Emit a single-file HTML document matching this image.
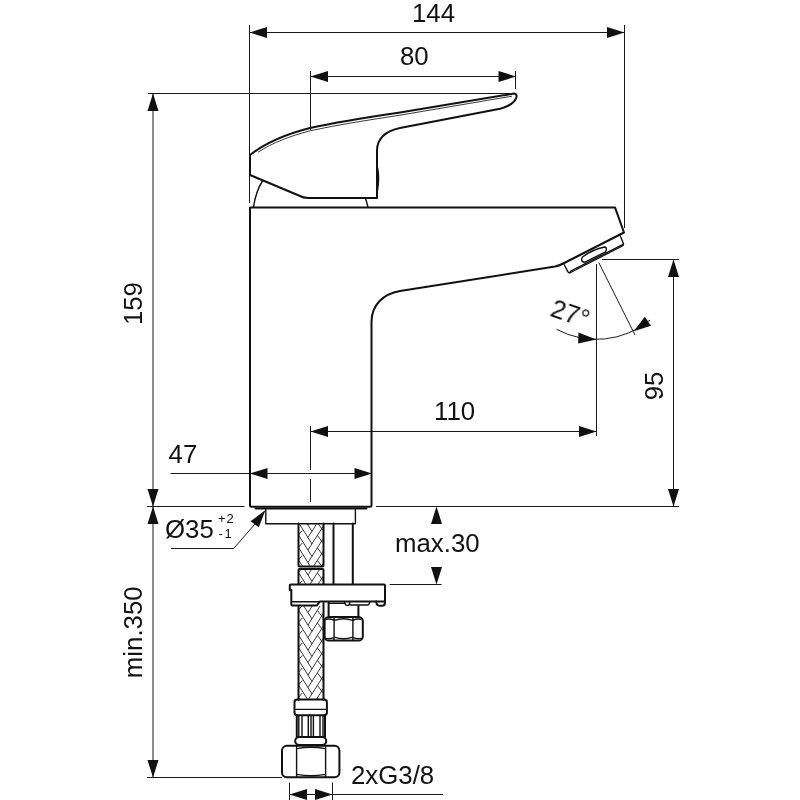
<!DOCTYPE html>
<html><head><meta charset="utf-8"><title>Drawing</title>
<style>
html,body{margin:0;padding:0;background:#fff;}
svg{display:block;}
text{font-family:"Liberation Sans",sans-serif;fill:#111;}
.t{stroke:#1a1a1a;stroke-width:1;fill:none;}
.b{stroke:#111;stroke-width:2;fill:none;stroke-linejoin:round;stroke-linecap:round;}
.m{stroke:#111;stroke-width:1.4;fill:none;stroke-linejoin:round;stroke-linecap:round;}
.h{stroke:#222;stroke-width:0.9;fill:none;}
.a{fill:#111;stroke:none;}
</style></head><body>
<svg width="800" height="800" viewBox="0 0 800 800">
<rect width="800" height="800" fill="#fff"/>
<!-- DIMENSION LINES -->
<g class="t">
<!-- 144 -->
<path d="M249.5,25V203 M624.5,25V228 M250,32.5H624"/>
<!-- 80 -->
<path d="M310.5,71V130 M515.5,71V89 M311,76.5H516"/>
<!-- 159 -->
<path d="M148,93.5H510 M153,93.5V777"/>
<!-- base line -->
<path d="M147,506.5H244.5 M376,506.5H679"/>
<!-- bottom line -->
<path d="M147,777.5H282"/>
<!-- 95 -->
<path d="M602,259.5H679 M673.5,259V506"/>
<!-- 110 -->
<path d="M310.5,431.5H596.4 M596.5,264V436"/>
<!-- centerline -->
<path d="M310.5,426V470 M310.5,479V502"/>
<!-- 47 -->
<path d="M170.5,473.5H372"/>
<!-- max30 -->
<path d="M389.6,584.5H441.6"/>
<!-- 2xG3/8 -->
<path d="M289,794.5H443 M289.5,782.5V800 M332.5,782.5V800"/>
<!-- dia35 leader -->
<path d="M171,548.5H233.7L255,524"/>
<!-- angle -->
<path d="M598.75,262.5L635,335"/>
<path d="M556.5,329.3A84,84 0 0 0 650,320"/>
</g>
<!-- ARROWS -->
<g class="a">
<path d="M249.5,32.5l17.5,-5.5v11z"/><path d="M624.5,32.5l-17.5,-5.5v11z"/>
<path d="M310.5,76.5l17.5,-5.5v11z"/><path d="M516,76.5l-17.5,-5.5v11z"/>
<path d="M153,93.5l-5.5,17.5h11z"/><path d="M153,506.5l-5.5,-17.5h11z"/>
<path d="M153,506.5l-5.5,17.5h11z"/><path d="M153,777.5l-5.5,-17.5h11z"/>
<path d="M673.5,259.5l-5.5,17.5h11z"/><path d="M673.5,506.5l-5.5,-17.5h11z"/>
<path d="M310.5,431.5l17.5,-5.5v11z"/><path d="M596.5,431.5l-17.5,-5.5v11z"/>
<path d="M250,473.5l17.5,-5.5v11z"/><path d="M372,473.5l-17.5,-5.5v11z"/>
<path d="M436.5,506.5l-5.5,17.5h11z"/><path d="M436.5,584.5l-5.5,-17.5h11z"/>
<path d="M289.5,794.5l17.5,-5.5v11z"/><path d="M332.5,794.5l-17.5,-5.5v11z"/>
<path d="M265.5,510L250.5,521.3L258.8,527.3z"/>
<path d="M596.4,339.4L578.4,332.6L578.2,343.4z"/>
<path d="M633.75,331.3L644.8,316.8L651,325.8z"/>
</g>
<!-- TEXT -->
<g font-size="25.8" opacity="0.995">
<text x="412" y="22">144</text>
<text x="400" y="65">80</text>
<text transform="translate(142,303.6) rotate(-90)" text-anchor="middle">159</text>
<text transform="translate(663,386) rotate(-90)" text-anchor="middle">95</text>
<text x="434" y="419.5">110</text>
<text x="168.6" y="463.4">47</text>
<text x="165" y="537.8">Ø35</text>
<text x="395" y="552">max.30</text>
<text transform="translate(142.4,632.3) rotate(-90)" text-anchor="middle">min.350</text>
<text x="351" y="783.5">2xG3/8</text>
<text transform="translate(549,315.6) rotate(19)">27°</text>
</g>
<g font-size="13" opacity="0.995">
<text x="218" y="522.8" letter-spacing="1">+2</text>
<text x="218.4" y="538.2" letter-spacing="1.8">-1</text>
</g>
<!-- BODY -->
<path class="b" d="M250,207.4H615L624,232.5L563.25,263.5Q559,265.8 555,266.6L400,291C383,294 371.5,305 371.5,322V505.3Q371.5,506.8 370,506.8H251.5Q250,506.8 250,505.3Z"/>
<!-- aerator -->
<path class="m" d="M564,264.2L567.8,271.6Q568.8,273.3 570.6,272.5L622.4,246Q624,245.1 623.4,243.4L620,235.3" stroke-width="1.6"/>
<path class="m" d="M570.2,271.4L622.6,244.6" stroke-width="2.6"/>
<path class="m" d="M582.8,256.8Q593,249.2 604.5,247Q606.6,247.2 606.4,249.6L605.6,251.8L585,262.2Q582,262.5 581.6,259.8Q581.6,257.8 582.8,256.8Z" stroke-width="1.7"/>
<!-- HANDLE -->
<path class="b" d="M250,155C268,141 290,133 310,128C340,121.5 370,117 400,112.6L514,93.6C517,93.8 517,96.5 516,98.5C514,103 508,106.5 500,108.8L400,128C386,131 377.5,138 377,150V198H308Q303,197.6 300,196L250,175Z"/>
<path class="h" d="M258,152.3C272,142.8 291,135.8 310,130.8C340,124.3 370,119.8 400,115.2L512,96.2"/>
<path class="m" d="M377.6,168Q379.6,178 377.6,190" stroke-width="1.6"/>
<!-- dome -->
<path class="m" d="M253.5,207C255,197 258,188 262.5,181 M368,207L365.6,198.5"/>
<!-- BELOW BODY -->
<path class="b" d="M255.5,508.5H366.5" stroke-width="2.6" stroke-linecap="butt"/>
<path class="m" d="M265.8,509V523.7H355.4V509" stroke-width="1.6"/>
<!-- HOSE -->
<path class="h" d="M307.0,523.5L312.0,531.5M309.0,523.5L308.0,525.0M299.1,523.5L312.0,544.0M316.9,523.5L308.0,537.5M317.9,523.5L323.5,531.0M298.5,535.0L312.0,556.5M323.5,525.8L308.0,550.0M298.5,535.0L302.2,530.5M317.5,535.5L323.5,543.5M298.5,547.5L310.4,566.5M323.5,538.2L308.0,562.5M298.5,547.5L302.2,543.0M317.5,548.0L323.5,556.0M298.5,560.0L302.6,566.5M323.5,550.8L313.4,566.5M298.5,560.0L302.2,555.5M317.5,560.5L322.0,566.5M323.5,563.2L321.4,566.5"/>
<path class="h" d="M304.2,569.0L312.0,581.5M311.8,569.0L308.0,575.0M298.5,572.5L305.7,584.0M319.8,569.0L310.2,584.0M298.5,572.5L301.4,569.0M317.5,573.0L323.5,581.0M323.5,575.8L318.2,584.0M299.3,584.0L302.2,580.5"/>
<path class="h" d="M311.7,606.0L312.0,606.5M303.8,606.0L312.0,619.0M312.2,606.0L308.0,612.5M298.5,610.0L312.0,631.5M320.1,606.0L308.0,625.0M298.5,610.0L301.8,606.0M317.5,610.5L323.5,618.5M298.5,622.5L312.0,644.0M323.5,613.2L308.0,637.5M298.5,622.5L302.2,618.0M317.5,623.0L323.5,631.0M298.5,635.0L312.0,656.5M323.5,625.8L308.0,650.0M298.5,635.0L302.2,630.5M317.5,635.5L323.5,643.5M298.5,647.5L312.0,669.0M323.5,638.2L308.0,662.5M298.5,647.5L302.2,643.0M317.5,648.0L323.5,656.0M298.5,660.0L312.0,681.5M323.5,650.8L308.0,675.0M298.5,660.0L302.2,655.5M317.5,660.5L323.5,668.5M298.5,672.5L312.0,694.0M323.5,663.2L308.0,687.5M298.5,672.5L302.2,668.0M317.5,673.0L323.5,681.0M298.5,685.0L307.9,700.0M323.5,675.8L308.0,700.0M298.5,685.0L302.2,680.5M317.5,685.5L323.5,693.5M298.5,697.5L300.1,700.0M323.5,688.2L316.0,700.0M298.5,697.5L302.2,693.0M317.5,698.0L319.0,700.0"/>
<path class="b" stroke-width="2.4" d="M298.5,523.5V565.5Q298.5,566.5 299.5,566.5H322.5Q323.5,566.5 323.5,565.5V523.5"/>
<path class="b" stroke-width="2.4" d="M298.5,584V570Q298.5,569 299.5,569H322.5Q323.5,569 323.5,570V584"/>
<path class="b" stroke-width="2.4" d="M298.5,606V700 M323.5,603V700"/>
<!-- ROD -->
<path class="b" d="M333.5,523.5V584 M352.8,523.5V584" stroke-width="2.6"/>
<!-- PLATE -->
<path class="b" d="M291.3,590H289.8V585.5Q289.8,584.5 290.8,584.5H384Q385,584.5 385,585.5V602.5Q385,605.8 382,605.8H379.5Q376.4,605.8 376.3,601.6"/>
<path class="b" d="M291.3,590V604.5Q291.3,605.5 292.3,605.5H316.8L319.8,601.6H385"/>
<path class="m" d="M292,601.8H319" stroke-width="1.2"/>
<path class="m" d="M344.6,601.6Q345,605.4 347.2,605.4Q349.6,605.4 349.6,603.2V601.6 M349.6,603.4Q349.7,605 351,605H367.3Q369.2,605 369.8,601.6" stroke-width="1.5"/>
<!-- washer below plate -->
<path class="b" d="M328.6,602.5V616.8 M358.4,606V616.8"/><path class="m" d="M328.6,603.4H345" stroke-width="1.2"/>
<!-- NUT small -->
<rect class="b" x="324.6" y="617" width="38.2" height="23.6" rx="4.2" stroke-width="2"/>
<path class="m" d="M334.1,617.6V640 M352.9,617.6V640 M334.4,620.4Q343.5,617.2 352.6,620.4 M334.4,637.2Q343.5,640.4 352.6,637.2 M326.4,619.2Q330,618.4 333.8,620 M353.2,620Q357,618.4 361,619.2 M326.4,638.4Q330,639.2 333.8,637.6 M353.2,637.6Q357,639.2 361,638.4" stroke-width="1.4"/>
<!-- FERRULE -->
<rect class="b" x="294.5" y="699.6" width="32.4" height="15.6" rx="2.6"/>
<path class="m" d="M295,709.4H326.5"/>
<!-- KNURL -->
<path class="b" d="M296.8,715.2V737 M325,715.2V737"/>
<path class="m" d="M298.8,716V736.5 M323,716V736.5 M308.3,716V736.5 M313.4,716V736.5" stroke-width="1"/>
<path class="m" d="M302,716V736.5 M311,716V736.5 M320,716V736.5" stroke-width="2"/>
<!-- COLLAR -->
<rect class="b" x="295.2" y="737" width="31" height="8" rx="4"/>
<!-- NUT big -->
<rect class="b" x="282" y="745.8" width="57.4" height="31.4" rx="4.8" stroke-width="2"/>
<path class="m" d="M296.6,746.5V776.5 M325.6,746.5V776.5 M297,748.6Q311,745.8 325.2,748.6 M297,774.4Q311,777.2 325.2,774.4" stroke-width="1.5"/>
</svg>
</body></html>
